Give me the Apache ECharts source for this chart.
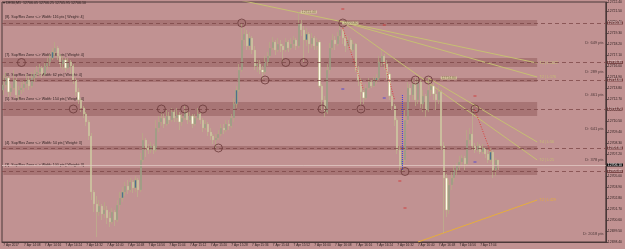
<!DOCTYPE html>
<html>
<head>
<meta charset="utf-8">
<script src="https://cdn.jsdelivr.net/npm/echarts@6/dist/echarts.min.js"></script>
<style>
html, body { margin: 0; padding: 0; background: #c19292; }
#chart { width: 625px; height: 249px; }
</style>
</head>
<body>
<div id="chart"></div>
<script>
// DE30 M1, 7 Apr 2017 from 14:00, one candle per minute
const timeLabels = ['7 Apr 2017', '7 Apr 14:08', '7 Apr 14:16', '7 Apr 14:24', '7 Apr 14:32', '7 Apr 14:40',
  '7 Apr 14:48', '7 Apr 14:56', '7 Apr 15:04', '7 Apr 15:12', '7 Apr 15:20', '7 Apr 15:28', '7 Apr 15:36',
  '7 Apr 15:44', '7 Apr 15:52', '7 Apr 16:00', '7 Apr 16:08', '7 Apr 16:16', '7 Apr 16:24', '7 Apr 16:32',
  '7 Apr 16:40', '7 Apr 16:48', '7 Apr 16:56', '7 Apr 17:04'];

const firstOpen = 12713.6;
const closes = [12714.1,12714.8,12713.4,12713.8,12714.6,12713.1,12713.6,12713.8,12714.2,12714.6,
  12714.0,12714.8,12715.2,12715.4,12715.8,12715.2,12716.0,12716.4,12716.8,12717.4,
  12717.8,12717.0,12716.2,12716.6,12715.8,12716.4,12716.0,12714.6,12713.4,12712.6,
  12711.8,12711.2,12710.4,12709.0,12703.4,12702.2,12701.4,12702.0,12701.2,12701.6,
  12700.8,12700.4,12701.4,12700.6,12702.1,12702.8,12703.4,12704.0,12703.6,12704.4,
  12703.8,12704.6,12703.6,12706.6,12708.6,12707.8,12707.6,12708.0,12707.6,12709.8,
  12710.4,12710.8,12710.2,12711.0,12710.6,12711.4,12710.8,12711.1,12710.4,12710.8,
  12711.4,12710.6,12711.0,12710.2,12710.8,12711.2,12710.6,12709.8,12710.2,12709.4,
  12709.0,12708.6,12708.8,12709.2,12709.8,12709.6,12710.2,12710.0,12710.8,12712.2,
  12713.6,12715.6,12718.6,12719.2,12718.0,12718.8,12717.6,12716.0,12716.2,12715.6,
  12715.4,12716.4,12717.0,12717.8,12718.4,12717.6,12718.2,12718.0,12717.6,12718.4,
  12717.8,12718.2,12718.6,12718.0,12720.2,12719.6,12718.6,12719.2,12718.2,12718.8,
  12718.0,12718.4,12714.0,12712.6,12711.4,12715.6,12717.8,12718.6,12718.2,12719.0,
  12719.6,12718.8,12718.0,12718.6,12717.6,12718.2,12715.6,12714.6,12713.4,12712.8,
  12713.8,12714.4,12714.0,12714.6,12714.8,12716.4,12717.0,12716.2,12715.2,12713.0,
  12712.0,12710.6,12707.6,12706.0,12706.6,12710.6,12713.8,12713.1,12714.2,12712.6,
  12714.4,12712.2,12713.0,12711.6,12713.6,12714.0,12713.2,12712.6,12713.4,12708.0,
  12704.8,12701.6,12704.1,12704.8,12705.6,12706.0,12706.4,12706.8,12706.2,12708.6,
  12709.2,12708.0,12707.6,12708.0,12707.4,12707.8,12707.2,12706.6,12707.4,12705.6,
  12706.6,12706.1];
const highs = [12715.1,12715.4,12715.0,12714.2,12715.6,12714.8,12714.0,12714.4,12714.6,12715.2,
  12715.0,12715.4,12715.6,12716.0,12716.2,12716.0,12716.4,12716.8,12717.2,12717.8,
  12718.4,12718.0,12717.2,12717.0,12716.8,12716.8,12716.6,12716.2,12714.8,12713.8,
  12712.8,12712.0,12711.4,12710.6,12709.3,12703.6,12703.0,12702.6,12702.2,12702.4,
  12702.0,12701.4,12701.8,12701.6,12702.6,12703.4,12703.9,12704.4,12704.6,12704.8,
  12704.6,12705.0,12704.8,12707.3,12709.3,12708.8,12708.2,12708.4,12708.2,12710.6,
  12711.0,12711.4,12711.2,12711.6,12711.4,12711.8,12711.6,12711.8,12711.4,12711.2,
  12712.0,12711.6,12711.4,12711.2,12711.2,12711.8,12711.4,12710.8,12710.6,12710.4,
  12709.8,12709.2,12709.2,12709.6,12710.2,12710.2,12710.6,12710.6,12711.2,12712.8,
  12714.0,12716.2,12720.3,12719.8,12719.6,12719.4,12719.0,12718.0,12716.6,12716.6,
  12716.0,12717.0,12717.4,12718.4,12718.9,12718.6,12718.8,12718.6,12718.2,12718.8,
  12718.6,12718.8,12719.0,12718.8,12721.4,12720.6,12720.0,12719.8,12719.4,12719.3,
  12719.0,12718.8,12718.6,12714.2,12713.0,12716.2,12718.3,12719.2,12719.0,12719.4,
  12720.3,12719.8,12719.2,12719.0,12718.8,12718.6,12718.3,12716.0,12714.8,12713.8,
  12714.2,12714.8,12714.6,12714.9,12715.2,12717.0,12717.6,12717.2,12716.6,12715.4,
  12713.2,12712.2,12710.8,12708.0,12707.6,12711.6,12714.4,12714.2,12714.6,12714.8,
  12714.8,12714.6,12713.6,12713.2,12714.8,12714.4,12714.3,12713.6,12714.0,12713.6,
  12708.4,12705.2,12704.6,12705.4,12706.1,12706.3,12707.0,12707.1,12707.0,12709.6,
  12709.8,12712.1,12708.3,12708.4,12708.2,12708.2,12707.8,12707.6,12707.8,12707.6,
  12706.8,12706.6];
const lows = [12713.1,12713.8,12712.9,12713.0,12713.6,12712.8,12712.6,12713.2,12713.4,12713.8,
  12713.6,12713.8,12714.4,12714.8,12715.0,12714.8,12715.0,12715.6,12716.0,12716.6,
  12717.0,12716.6,12715.8,12715.6,12715.4,12715.6,12715.2,12714.2,12713.0,12712.2,
  12711.4,12710.8,12710.0,12708.6,12702.6,12701.4,12698.9,12701.0,12700.6,12700.8,
  12700.2,12699.9,12700.2,12700.0,12700.4,12701.6,12702.4,12703.0,12703.2,12703.4,
  12703.3,12703.4,12702.9,12703.4,12706.4,12706.9,12707.2,12707.3,12707.2,12707.4,
  12709.4,12710.0,12709.8,12710.0,12710.2,12710.4,12710.4,12710.4,12709.6,12710.0,
  12710.6,12710.2,12710.4,12709.8,12710.0,12710.6,12710.2,12709.4,12709.6,12709.0,
  12708.6,12708.2,12707.8,12708.6,12709.0,12709.2,12709.4,12709.6,12709.8,12710.4,
  12711.8,12713.4,12715.4,12718.0,12717.6,12717.6,12717.2,12715.6,12715.4,12715.2,
  12714.7,12715.2,12716.0,12716.8,12717.6,12717.1,12717.4,12717.4,12716.4,12717.4,
  12717.4,12717.6,12717.8,12717.6,12717.8,12719.0,12716.4,12718.0,12717.3,12717.8,
  12717.6,12717.6,12713.8,12711.6,12710.9,12711.2,12715.2,12717.6,12717.6,12718.0,
  12718.6,12718.2,12717.4,12717.6,12717.3,12717.4,12715.4,12714.0,12712.0,12712.2,
  12712.6,12713.6,12713.8,12713.9,12714.2,12714.6,12716.0,12715.6,12714.6,12712.6,
  12711.6,12710.0,12707.2,12705.6,12705.4,12706.2,12710.2,12712.4,12712.6,12712.0,
  12712.2,12711.8,12711.4,12710.9,12711.4,12713.0,12712.6,12711.6,12712.2,12707.6,
  12699.3,12700.9,12701.2,12703.6,12704.4,12705.1,12705.6,12706.0,12705.6,12706.0,
  12708.2,12707.6,12707.3,12707.4,12707.2,12707.2,12706.8,12706.3,12706.4,12704.8,
  12705.0,12705.6];

// support / resistance zones
const zoneNames = ['[8]. Sup/Res Zone <-> Width: 116 pts [ Weight: 4]', '[7]. Sup/Res Zone <-> Width: 182 pts [ Weight: 4]',
  '[6]. Sup/Res Zone <-> Width: 62 pts [ Weight: 4]', '[5]. Sup/Res Zone <-> Width: 154 pts [ Weight: 4]',
  '[4]. Sup/Res Zone <-> Width: 54 pts [ Weight: 3]', '[3]. Sup/Res Zone <-> Width: 100 pts [ Weight: 3]'];
const zoneLow = [12720.0, 12715.9, 12714.4, 12711.0, 12707.6, 12705.1];
const zoneHigh = [12720.6, 12716.8, 12714.8, 12712.4, 12708.0, 12705.8];
const zoneMid = [12720.3, 12716.35, 12714.6, 12711.7, 12707.8, 12705.45];
const zoneEnd = 206;

// zone touches (circles)
const touchIdx = [7, 27, 61, 70, 77, 83, 92, 101, 109, 116, 123, 131, 138, 155, 159, 164, 182];
const touchPrice = [12716.35, 12711.7, 12711.7, 12711.7, 12711.7, 12707.8, 12720.3, 12714.6, 12716.35,
  12716.35, 12711.7, 12720.3, 12711.7, 12705.45, 12714.6, 12714.6, 12711.7];

// trend lines [startIdx, startPrice, endIdx, endPrice]
const trendLines = [
  [80, 12723.2, 206, 12716.3],
  [131, 12720.4, 206, 12714.9],
  [131, 12720.4, 206, 12706.6],
  [164, 12714.8, 206, 12708.4],
  [160, 12698.4, 206, 12702.6]
];
const trendNames = ['T:4 | L:1622', 'T:2 | L:176', 'T:2 | L:25', 'T:4 | L:56', 'T:2 | L:429'];
const trendColors = ['#c6bf72', '#c6bf72', '#c6bf72', '#c6bf72', '#e6ad3c'];

// red dotted projections
const redLines = [
  [131, 12719.8, 139, 12713.6],
  [147, 12716.4, 151, 12712.6],
  [182, 12711.6, 188, 12707.4]
];
const blueLine = [154, 12713.1, 154, 12705.6];
const redMarks = [[131, 12721.7], [147, 12720.1], [182, 12713.0], [153, 12704.5], [155, 12701.8]];
const blueMarks = [[131, 12713.7], [147, 12712.8], [182, 12706.4]];

// price boxes at swing highs
const peakIdx = [114, 130, 168];
const peakPrice = [12721.4, 12720.3, 12714.8];

// distance labels on the right
const distText = ['D: 649 pts', 'D: 289 pts', 'D: 461 pts', 'D: 641 pts', 'D: 378 pts', 'D: 2018 pts'];
const distPrice = [12718.3, 12715.4, 12713.1, 12709.7, 12706.6, 12699.2];

const lastPrice = 12706.1;
const nBars = 233;

// build category axis (minutes from 14:00)
const categories = [];
for (let i = 0; i < nBars; i++) {
  const m = 14 * 60 + i;
  categories.push(String(Math.floor(m / 60)).padStart(2, '0') + ':' + String(m % 60).padStart(2, '0'));
}
const candles = closes.map((c, i) => [i === 0 ? firstOpen : closes[i - 1], c, lows[i], highs[i]]);

const tiny = { fontFamily: 'Liberation Sans', fontSize: 3.6, color: '#2c1e1e' };

const series = [
  {
    name: 'DE30',
    type: 'candlestick',
    data: candles,
    barWidth: '62%',
    z: 4,
    itemStyle: {
      color: '#4d6f8e',
      color0: '#fffbe8',
      borderColor: '#b3b07f',
      borderColor0: '#bcb98a',
      borderWidth: 0.6
    },
    markArea: {
      silent: true,
      itemStyle: { color: 'rgba(116,56,56,0.32)' },
      data: zoneNames.map((n, k) => [
        { name: n, xAxis: 0, yAxis: zoneHigh[k],
          label: { show: true, position: [2, -5], formatter: n, ...tiny } },
        { xAxis: zoneEnd, yAxis: zoneLow[k] }
      ])
    },
    markLine: {
      silent: true,
      symbol: 'none',
      data: zoneMid.map(v => ({
        yAxis: v,
        lineStyle: { color: '#7d4848', type: [4, 3], width: 0.8 },
        label: { show: true, position: 'end', distance: 1, formatter: v.toFixed(2),
          backgroundColor: '#7a4646', color: '#e9d3d3', fontSize: 3.4, padding: [0, 1] }
      })).concat([{
        yAxis: lastPrice,
        lineStyle: { color: '#e2c8c3', type: 'solid', width: 0.8 },
        label: { show: true, position: 'end', distance: 1, formatter: lastPrice.toFixed(2),
          backgroundColor: '#111', color: '#fff', fontSize: 3.4, padding: [0, 1] }
      }])
    }
  },
  {
    type: 'scatter',
    data: touchIdx.map((x, k) => [x, touchPrice[k]]),
    symbol: 'circle',
    symbolSize: 8,
    z: 6,
    silent: true,
    itemStyle: { color: 'rgba(0,0,0,0)', borderColor: '#6a3939', borderWidth: 1 }
  },
  {
    type: 'scatter',
    data: peakIdx.map((x, k) => [x, peakPrice[k]]),
    symbolSize: 0,
    z: 7,
    silent: true,
    label: { show: true, position: 'right', distance: 2, formatter: p => p.value[1].toFixed(2),
      backgroundColor: '#d9cfa0', color: '#6e5e38', fontSize: 3.4, padding: [0, 1] }
  },
  {
    type: 'scatter',
    data: distText.map((t, k) => ({ value: [nBars - 1, distPrice[k]], name: t })),
    symbolSize: 0,
    silent: true,
    label: { show: true, position: 'left', distance: 1, formatter: p => p.name, ...tiny, fontSize: 4 }
  },
  {
    type: 'scatter',
    data: redMarks,
    symbol: 'rect',
    symbolSize: [3, 1],
    silent: true,
    itemStyle: { color: '#d22a2a' }
  },
  {
    type: 'scatter',
    data: blueMarks,
    symbol: 'rect',
    symbolSize: [3, 1],
    silent: true,
    itemStyle: { color: '#3b3be0' }
  }
];

trendLines.forEach((t, k) => {
  series.push({
    type: 'line',
    data: [[t[0], t[1]], [t[2], t[3]]],
    symbol: 'none',
    silent: true,
    z: 3,
    lineStyle: { color: trendColors[k], width: 1 },
    endLabel: { show: true, formatter: trendNames[k], color: trendColors[k], fontSize: 3.6,
      fontFamily: 'Liberation Sans', distance: 2 }
  });
});
redLines.forEach(t => {
  series.push({
    type: 'line',
    data: [[t[0], t[1]], [t[2], t[3]]],
    symbol: 'none',
    silent: true,
    z: 5,
    lineStyle: { color: '#e02a2a', width: 0.8, type: [1, 1.5] }
  });
});
series.push({
  type: 'line',
  data: [[blueLine[0], blueLine[1]], [blueLine[2], blueLine[3]]],
  symbol: 'none',
  silent: true,
  z: 5,
  lineStyle: { color: '#3a3ae6', width: 1, type: [1, 1] }
});

const chart = echarts.init(document.getElementById('chart'));
chart.setOption({
  animation: false,
  backgroundColor: '#c19292',
  title: {
    text: '\u25BE DE30,M1  12706.05 12706.25 12705.95 12706.10',
    left: 3, top: 1, padding: 0,
    textStyle: { fontSize: 3.6, color: '#2a1d1d', fontWeight: 'normal', fontFamily: 'Liberation Sans' }
  },
  grid: { left: 2, right: 16, top: 2, bottom: 7, show: true, borderColor: '#4a3838', borderWidth: 1 },
  xAxis: {
    type: 'category',
    data: categories,
    boundaryGap: true,
    axisLine: { lineStyle: { color: '#4a3838', width: 1 } },
    axisTick: { interval: 7, length: 2, alignWithLabel: true, lineStyle: { color: '#4a3838' } },
    axisLabel: {
      interval: 7, align: 'left', margin: 1.5, fontSize: 3.2, color: '#2a1d1d', fontFamily: 'Liberation Sans',
      formatter: (v, i) => timeLabels[i / 8] || ''
    },
    splitLine: { show: false }
  },
  yAxis: {
    type: 'value',
    position: 'right',
    min: 12698.4,
    max: 12722.4,
    interval: 1.1,
    axisLine: { show: true, lineStyle: { color: '#4a3838', width: 1 } },
    axisTick: { show: true, length: 2, lineStyle: { color: '#4a3838' } },
    axisLabel: { fontSize: 3.4, color: '#2a1d1d', margin: 2, fontFamily: 'Liberation Sans',
      formatter: v => v.toFixed(2) },
    splitLine: { show: false }
  },
  series: series
});
</script>
</body>
</html>
